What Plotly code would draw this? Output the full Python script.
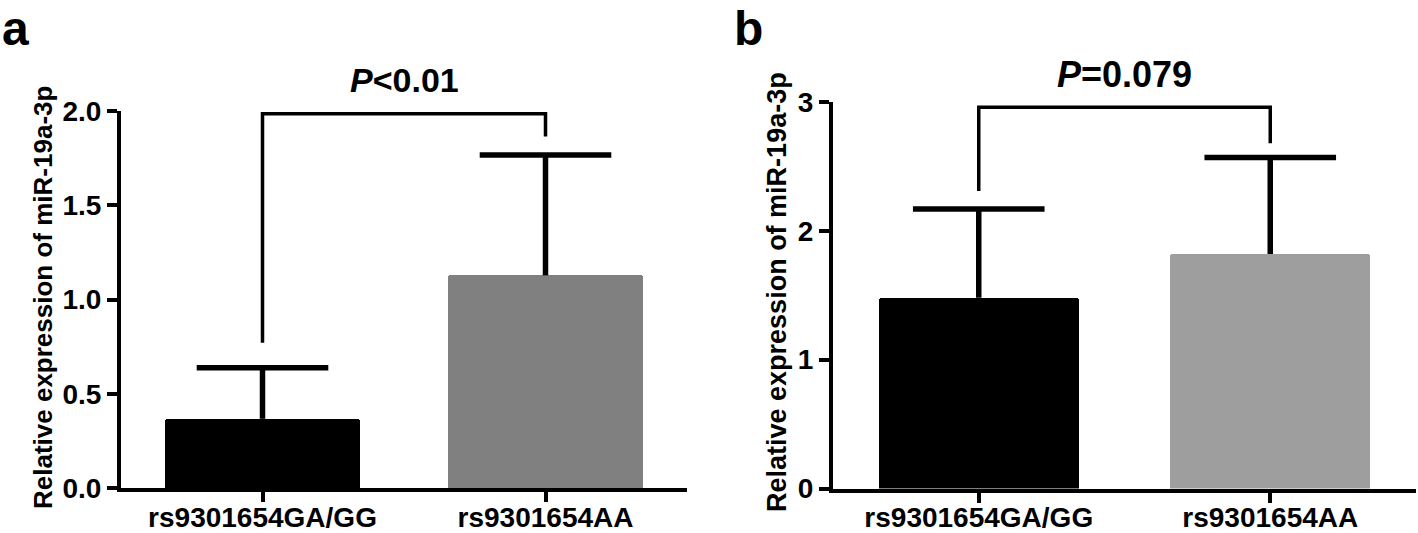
import plotly.graph_objects as go

# ---- data ----
categories = ["rs9301654GA/GG", "rs9301654AA"]
means_a = [0.367, 1.128]
sd_a = [0.271, 0.638]
means_b = [1.48, 1.82]
sd_b = [0.69, 0.75]
colors_a = ["#000000", "#808080"]
colors_b = ["#000000", "#9e9e9e"]
yticks_a = [0.0, 0.5, 1.0, 1.5, 2.0]
yticks_b = [0, 1, 2, 3]
# significance brackets: [left leg bottom, top, right leg bottom]
bracket_a = [0.77, 1.985, 1.865]
bracket_b = [2.31, 2.96, 2.68]
p_text_a = "<b><i>P</i>&lt;0.01</b>"
p_text_b = "<b><i>P</i>=0.079</b>"
y_title = "Relative expression of miR-19a-3p"

FONT = "Liberation Sans, Arial, sans-serif"
W, H = 1418, 533

fig = go.Figure()


def add_panel(xa, ya, means, sds, colors, bracket):
    fig.add_trace(go.Bar(
        x=categories, y=means, width=0.686,
        marker=dict(color=colors, line=dict(width=0), cornerradius=3),
        xaxis=xa, yaxis=ya, showlegend=False, hoverinfo="skip"))
    # error stems (upper only)
    sx, sy = [], []
    for c, m, s in zip(categories, means, sds):
        sx += [c, c, None]
        sy += [m, m + s, None]
    fig.add_trace(go.Scatter(
        x=sx, y=sy, mode="lines", line=dict(color="black", width=5.5),
        xaxis=xa, yaxis=ya, showlegend=False, hoverinfo="skip"))
    # caps
    fig.add_trace(go.Scatter(
        x=categories, y=[m + s for m, s in zip(means, sds)], mode="markers",
        marker=dict(symbol="line-ew", size=94, color="black",
                    line=dict(color="black", width=5.5)),
        xaxis=xa, yaxis=ya, showlegend=False, hoverinfo="skip"))
    # bracket
    fig.add_trace(go.Scatter(
        x=[categories[0], categories[0], categories[1], categories[1]],
        y=[bracket[0], bracket[1], bracket[1], bracket[2]],
        mode="lines", line=dict(color="black", width=3.5),
        xaxis=xa, yaxis=ya, showlegend=False, hoverinfo="skip"))


add_panel("x", "y", means_a, sd_a, colors_a, bracket_a)
add_panel("x2", "y2", means_b, sd_b, colors_b, bracket_b)

tickfont = dict(family=FONT, size=28, color="black", weight="bold")
xcommon = dict(range=[-0.5, 1.5], showline=True, linewidth=4, linecolor="black",
               ticks="outside", ticklen=10, tickwidth=3.5, tickcolor="black",
               tickfont=tickfont, showgrid=False, zeroline=False, fixedrange=True,
               automargin=False, ticklabelstandoff=-9)
ycommon = dict(showline=True, linewidth=4, linecolor="black",
               ticks="outside", ticklen=10, tickwidth=3.5, tickcolor="black",
               tickfont=tickfont, showgrid=False, zeroline=False, fixedrange=True,
               automargin=False)

fig.update_layout(
    width=W, height=H, autosize=False,
    margin=dict(l=0, r=0, t=0, b=0, pad=0, autoexpand=False),
    paper_bgcolor="white", plot_bgcolor="white",
    font=dict(family=FONT, color="black"),
    bargap=0,
    xaxis=dict(domain=[121 / W, 687 / W], anchor="y", **xcommon),
    yaxis=dict(domain=[45 / H, 422 / H], anchor="x", range=[0, 2],
               tickvals=yticks_a, ticktext=[f"{v:.1f}" for v in yticks_a], **ycommon),
    xaxis2=dict(domain=[833 / W, 1416 / W], anchor="y2", **xcommon),
    yaxis2=dict(domain=[44.5 / H, 431 / H], anchor="x2", range=[0, 3],
                tickvals=yticks_b, ticktext=[str(v) for v in yticks_b], **ycommon),
)

ann = [
    dict(text="<b>a</b>", xref="paper", yref="paper", x=0, y=1,
         xanchor="left", yanchor="top", showarrow=False,
         font=dict(family=FONT, size=48, color="black")),
    dict(text="<b>b</b>", xref="paper", yref="paper", x=732 / W, y=1,
         xanchor="left", yanchor="top", showarrow=False,
         font=dict(family=FONT, size=48, color="black")),
    dict(text=p_text_a, xref="x", yref="y domain", x=0.5, y=1.082, xanchor="center",
         yanchor="middle", showarrow=False,
         font=dict(family=FONT, size=34, color="black")),
    dict(text=p_text_b, xref="x2", yref="y2 domain", x=0.5, y=1.07, xanchor="center",
         yanchor="middle", showarrow=False,
         font=dict(family=FONT, size=36, color="black")),
    dict(text="<b>" + y_title + "</b>", xref="paper", yref="paper", x=43 / W,
         y=1 - 298 / H, xanchor="center", yanchor="middle", textangle=-90,
         showarrow=False, font=dict(family=FONT, size=26, color="black")),
    dict(text="<b>" + y_title + "</b>", xref="paper", yref="paper", x=777 / W,
         y=1 - 292 / H, xanchor="center", yanchor="middle", textangle=-90,
         showarrow=False, font=dict(family=FONT, size=27, color="black")),
]
fig.update_layout(annotations=ann)

fig.write_html(
    "out.html",
    config={"displayModeBar": False},
    post_script="document.body.style.margin='0';document.body.style.overflow='hidden';",
)
